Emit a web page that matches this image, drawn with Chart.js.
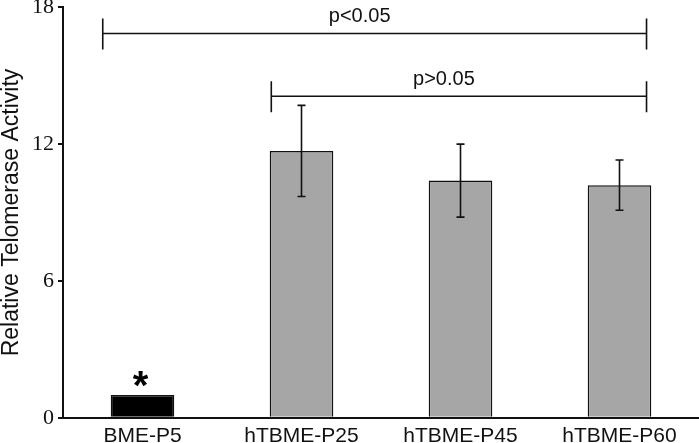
<!DOCTYPE html>
<html>
<head>
<meta charset="utf-8">
<script src="https://cdn.jsdelivr.net/npm/chart.js@4.4.0/dist/chart.umd.min.js"></script>
<style>
  html, body { margin: 0; padding: 0; background: #fff; overflow: hidden; }
  #wrap { width: 699px; height: 443px; overflow: hidden; position: relative; }
  #barChart { position: absolute; left: 0; top: -5px; }
</style>
</head>
<body>
<div id="wrap"><canvas id="barChart" width="699" height="460"></canvas></div>
<script>
// data
const categories = ['BME-P5', 'hTBME-P25', 'hTBME-P45', 'hTBME-P60'];
const activity = [1.0, 11.7, 10.4, 10.2];
const errLow = [null, 9.7, 8.8, 9.1];
const errHigh = [null, 13.7, 12.0, 11.3];
const yTicks = [0, 6, 12, 18];

// significance brackets (category index span, y level)
const bracketText = ['p<0.05', 'p>0.05'];
const bracketFrom = [-0.25, 0.81];
const bracketTo = [3.17, 3.17];
const bracketLevel = [16.85, 14.1];

const barColors = ['#000000', '#a6a6a6', '#a6a6a6', '#a6a6a6'];

// error bars, brackets and the asterisk
const extras = {
  id: 'extras',
  afterDatasetsDraw(chart) {
    let ctx = chart.ctx;
    let x = chart.scales.x;
    let y = chart.scales.y;
    ctx.save();
    ctx.strokeStyle = '#111';
    ctx.fillStyle = '#111';
    ctx.lineWidth = 1.6;

    for (let i = 0; i < categories.length; i++) {
      if (errLow[i] == null) continue;
      let cx = x.getPixelForValue(i);
      let top = y.getPixelForValue(errHigh[i]);
      let bot = y.getPixelForValue(errLow[i]);
      ctx.beginPath();
      ctx.moveTo(cx, top); ctx.lineTo(cx, bot);
      ctx.moveTo(cx - 4, top); ctx.lineTo(cx + 4, top);
      ctx.moveTo(cx - 4, bot); ctx.lineTo(cx + 4, bot);
      ctx.stroke();
    }

    ctx.font = '20px "Liberation Sans", Arial, sans-serif';
    ctx.textAlign = 'center';
    ctx.textBaseline = 'alphabetic';
    for (let i = 0; i < bracketText.length; i++) {
      let x1 = x.getPixelForValue(bracketFrom[i]);
      let x2 = x.getPixelForValue(bracketTo[i]);
      let yy = y.getPixelForValue(bracketLevel[i]);
      ctx.beginPath();
      ctx.moveTo(x1, yy); ctx.lineTo(x2, yy);
      ctx.moveTo(x1, yy - 15); ctx.lineTo(x1, yy + 16);
      ctx.moveTo(x2, yy - 15); ctx.lineTo(x2, yy + 16);
      ctx.stroke();
      ctx.fillText(bracketText[i], (x1 + x2) / 2 - 15, yy - 11);
    }

    // asterisk over the control bar
    ctx.font = 'bold 40px "Liberation Sans", Arial, sans-serif';
    ctx.fillStyle = '#000';
    ctx.fillText('*', x.getPixelForValue(0) - 2, y.getPixelForValue(activity[0]) + 4);
    ctx.restore();
  }
};

let ctx = document.getElementById('barChart').getContext('2d');
let barChart = new Chart(ctx, {
  type: 'bar',
  data: {
    labels: categories,
    datasets: [{
      data: activity,
      backgroundColor: barColors,
      borderColor: '#111',
      borderWidth: 1.5,
      borderSkipped: 'bottom',
      barPercentage: 0.8,
      categoryPercentage: 0.5
    }]
  },
  options: {
    responsive: false,
    animation: false,
    layout: { padding: { top: 0, right: 0, left: 0, bottom: 0 } },
    plugins: {
      legend: { display: false },
      tooltip: { enabled: false }
    },
    scales: {
      x: {
        grid: { display: false, drawTicks: false },
        border: { display: true, color: '#111', width: 2 },
        ticks: {
          color: '#111',
          padding: 6,
          font: { family: '"Liberation Sans", Arial, sans-serif', size: 21 }
        }
      },
      y: {
        min: 0,
        max: 18,
        afterBuildTicks: function(axis) {
          axis.ticks = yTicks.map(v => ({ value: v }));
        },
        grid: { drawOnChartArea: false, drawTicks: true, tickLength: 5, color: '#111', lineWidth: 2 },
        border: { display: true, color: '#111', width: 2 },
        ticks: {
          color: '#111',
          padding: 4,
          font: { family: '"Liberation Serif", "Times New Roman", serif', size: 22, lineHeight: 0.75 }
        },
        title: {
          display: true,
          text: 'Relative Telomerase Activity',
          color: '#111',
          padding: { top: 0, bottom: 5 },
          font: { family: '"Liberation Sans", Arial, sans-serif', size: 23, lineHeight: 1 }
        }
      }
    }
  },
  plugins: [extras]
});
</script>
</body>
</html>
